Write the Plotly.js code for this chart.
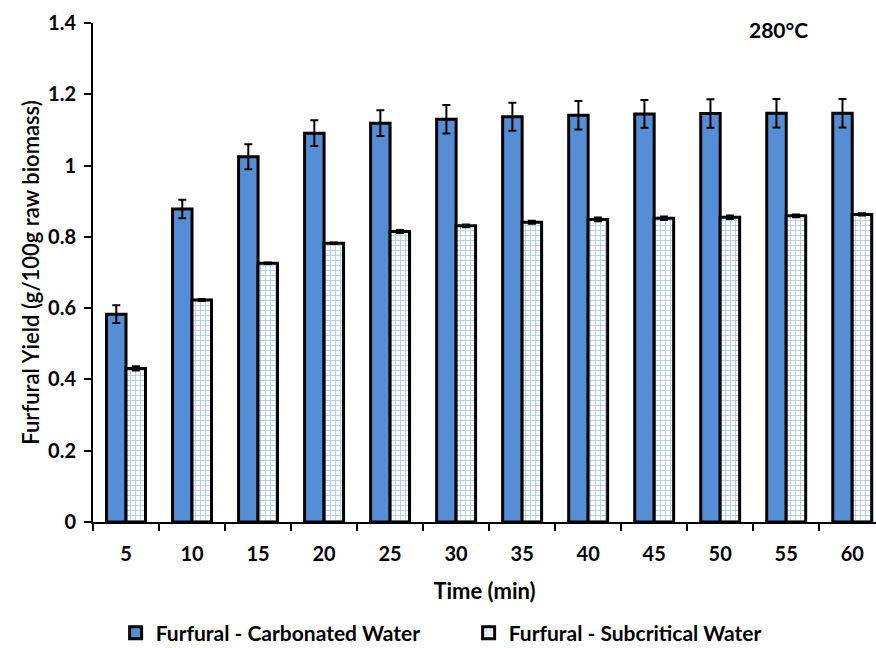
<!DOCTYPE html>
<html>
<head>
<meta charset="utf-8">
<script src="https://cdn.plot.ly/plotly-3.0.1.min.js"></script>
<style>html,body{margin:0;padding:0;background:#fff;}#chart{width:876px;height:648px;}</style>
</head>
<body>
<div id="chart"></div>
<script>
const times = ['5','10','15','20','25','30','35','40','45','50','55','60'];
const carbonated = [0.583, 0.878, 1.025, 1.091, 1.119, 1.130, 1.137, 1.141, 1.145, 1.146, 1.147, 1.147];
const carbonatedErr = [0.025, 0.026, 0.035, 0.036, 0.036, 0.040, 0.039, 0.040, 0.039, 0.040, 0.040, 0.040];
const subcritical = [0.431, 0.623, 0.726, 0.782, 0.815, 0.831, 0.841, 0.849, 0.852, 0.855, 0.859, 0.863];
const subcriticalErr = [0.006, 0.003, 0.002, 0.002, 0.004, 0.004, 0.004, 0.005, 0.005, 0.005, 0.004, 0.003];
const seriesNames = ['Furfural - Carbonated Water', 'Furfural - Subcritical Water'];
const tempLabel = '280°C';

const FONT = 'Lato, "Open Sans", sans-serif';

const traces = [
  {
    type: 'bar', name: seriesNames[0], x: times, y: carbonated,
    marker: {color: '#558ED5', line: {color: '#000', width: 3}},
    error_y: {type: 'data', array: carbonatedErr, visible: true, color: '#000', thickness: 2, width: 4}
  },
  {
    type: 'bar', name: seriesNames[1], x: times, y: subcritical,
    marker: {color: '#ffffff', line: {color: '#000', width: 3},
      pattern: {shape: '+', fgcolor: '#A9C6EC', bgcolor: '#ffffff', size: 5, solidity: 0.3}},
    error_y: {type: 'data', array: subcriticalErr, visible: true, color: '#000', thickness: 2, width: 4}
  }
];

const layout = {
  width: 876, height: 648,
  margin: {l: 93, r: 0, t: 23, b: 126, autoexpand: false},
  paper_bgcolor: '#fff', plot_bgcolor: '#fff',
  font: {family: FONT, color: '#000'},
  barmode: 'group', bargap: 0.41, bargroupgap: 0,
  showlegend: true,
  legend: {orientation: 'h', xref: 'container', yref: 'container',
    x: 0.132, xanchor: 'left', y: 0.023, yanchor: 'middle',
    font: {family: FONT, size: 21, color: '#000', weight: 'bold'}, itemwidth: 30,
    entrywidthmode: 'pixels', entrywidth: 308},
  xaxis: {
    type: 'category', range: [-0.5, 11.36], fixedrange: true,
    showline: true, linecolor: '#000', linewidth: 2,
    ticks: 'outside', tickson: 'boundaries', ticklen: 7, tickwidth: 2, tickcolor: '#000',
    ticklabelstandoff: 13,
    showgrid: false, zeroline: false,
    tickfont: {family: FONT, size: 20, color: '#000', weight: 'bold'},
    title: {text: 'Time (min)', font: {family: FONT, size: 22, color: '#000', weight: 'bold'}, standoff: 20}
  },
  yaxis: {
    range: [0, 1.4], dtick: 0.2, tick0: 0,
    showline: true, linecolor: '#000', linewidth: 2,
    ticks: 'outside', ticklen: 7, tickwidth: 2, tickcolor: '#000',
    ticklabelstandoff: 4,
    showgrid: false, zeroline: false,
    tickfont: {family: FONT, size: 20, color: '#000', weight: 'bold'},
    title: {text: 'Furfural Yield (g/100g raw biomass)', font: {family: FONT, size: 22, color: '#000', weight: 600}, standoff: 2}
  },
  annotations: [{
    text: tempLabel, xref: 'paper', yref: 'paper', x: 0.875, y: 0.986,
    xanchor: 'center', yanchor: 'middle', showarrow: false,
    font: {family: FONT, size: 21, color: '#000', weight: 'bold'}
  }]
};

Plotly.newPlot('chart', traces, layout, {displayModeBar: false, staticPlot: true});
</script>
</body>
</html>
